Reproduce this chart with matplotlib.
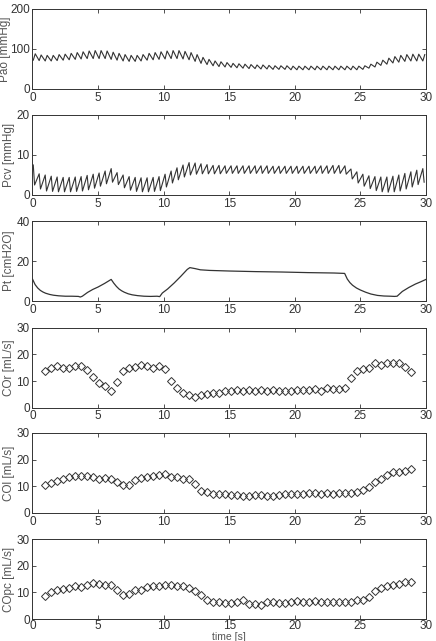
import matplotlib
matplotlib.use("Agg")
import matplotlib.pyplot as plt

plt.rcParams['font.family'] = ['Liberation Sans', 'DejaVu Sans']

# beat times [s]
t_beat = [0.06, 0.51, 0.97, 1.43, 1.88, 2.34, 2.80, 3.26, 3.71, 4.17,
          4.63, 5.08, 5.54, 6.00, 6.45, 6.91, 7.37, 7.83, 8.28, 8.74,
          9.20, 9.65, 10.11, 10.57, 11.02, 11.48, 11.94, 12.40, 12.85, 13.31,
          13.77, 14.22, 14.68, 15.14, 15.59, 16.05, 16.51, 16.97, 17.42, 17.88,
          18.34, 18.79, 19.25, 19.71, 20.16, 20.62, 21.08, 21.54, 21.99, 22.45,
          22.91, 23.36, 23.82, 24.28, 24.73, 25.19, 25.65, 26.11, 26.56, 27.02,
          27.48, 27.93, 28.39, 28.85, 29.30, 29.76]

# arterial pressure, per beat (systolic peak / diastolic trough)
pao_hi = [88, 85, 84, 84, 86, 87, 89, 91, 93, 95,
          96, 96, 95, 92, 89, 86, 84, 84, 86, 89,
          91, 93, 95, 96, 96, 94, 91, 86, 79, 74,
          70, 68, 66, 64, 63, 62, 61, 60, 60, 59,
          58, 58, 58, 57, 57, 57, 57, 57, 57, 57,
          57, 57, 57, 57, 57, 58, 62, 67, 72, 77,
          81, 84, 86, 87, 87, 86]
pao_lo = [72, 71, 70, 70, 71, 72, 73, 74, 75, 76,
          76, 76, 76, 74, 72, 70, 69, 69, 70, 72,
          73, 74, 75, 76, 76, 75, 73, 69, 64, 61,
          58, 56, 55, 54, 53, 52, 51, 51, 50, 50,
          49, 49, 49, 48, 48, 48, 48, 48, 48, 48,
          48, 48, 48, 48, 48, 49, 52, 55, 59, 62,
          65, 67, 69, 70, 70, 70]
pao_rise = 0.15

# central venous pressure, per beat
pcv_hi = [7.5, 5.3, 5.0, 4.7, 4.5, 4.4, 4.4, 4.5, 4.6, 4.9,
          5.2, 5.5, 6.0, 6.6, 5.6, 5.0, 4.6, 4.4, 4.3, 4.3,
          4.4, 4.6, 5.2, 6.0, 6.8, 7.5, 8.1, 8.0, 7.8, 7.6,
          7.4, 7.4, 7.3, 7.3, 7.3, 7.3, 7.3, 7.3, 7.3, 7.3,
          7.2, 7.2, 7.2, 7.2, 7.2, 7.2, 7.2, 7.2, 7.3, 7.3,
          7.4, 7.4, 7.3, 6.5, 5.8, 5.2, 4.8, 4.6, 4.5, 4.5,
          4.7, 5.0, 5.4, 5.8, 6.2, 6.6]
pcv_lo = [2.5, 1.5, 1.0, 0.9, 0.8, 0.8, 0.8, 0.9, 1.0, 1.3,
          1.7, 2.2, 2.8, 3.2, 2.6, 1.8, 1.2, 0.9, 0.8, 0.8,
          0.9, 1.1, 2.0, 3.0, 3.8, 4.5, 5.0, 5.2, 5.3, 5.3,
          5.3, 5.3, 5.4, 5.4, 5.4, 5.4, 5.4, 5.4, 5.4, 5.4,
          5.4, 5.4, 5.4, 5.4, 5.4, 5.4, 5.4, 5.4, 5.4, 5.4,
          5.4, 5.4, 5.2, 4.0, 3.0, 2.2, 1.6, 1.1, 0.8, 0.7,
          0.8, 1.0, 1.5, 2.0, 2.6, 3.2]
pcv_drop = 0.1

# thoracic pressure
pt_t = [0.0, 0.2, 0.4, 0.6, 0.8, 1.0, 1.3, 1.6, 2.0, 2.5,
        3.0, 3.5, 3.65, 3.8, 4.2, 4.6, 5.0, 5.5, 6.0, 6.2,
        6.4, 6.6, 6.8, 7.0, 7.3, 7.6, 8.0, 8.5, 9.0, 9.5,
        9.7, 9.9, 10.3, 10.8, 11.3, 11.8, 12.0, 12.4, 12.8, 13.5,
        15.0, 17.0, 19.0, 21.0, 23.0, 23.8, 24.0, 24.2, 24.4, 24.7,
        25.0, 25.4, 25.8, 26.3, 26.8, 27.3, 27.6, 27.8, 28.2, 28.7,
        29.2, 29.6, 30.0]
pt_v = [11.0, 8.2, 6.5, 5.3, 4.5, 3.9, 3.3, 2.9, 2.6, 2.4,
        2.4, 2.3, 2.0, 2.4, 4.3, 5.8, 7.0, 8.8, 10.8, 8.9,
        7.3, 6.0, 5.1, 4.4, 3.6, 3.1, 2.7, 2.4, 2.3, 2.4,
        2.2, 4.0, 6.0, 9.0, 12.3, 15.8, 16.7, 16.2, 15.6, 15.3,
        15.0, 14.7, 14.5, 14.2, 14.0, 13.8, 11.0, 9.2, 7.9, 6.5,
        5.5, 4.4, 3.5, 2.8, 2.5, 2.4, 2.3, 2.4, 4.8, 6.8,
        8.5, 9.6, 10.8]

# cardiac outputs, one value per beat (beats 2..63)
t_co = t_beat[2:64]
co_r = [13.7, 14.7, 15.5, 15.0, 15.0, 15.7, 15.5, 14.1, 11.6, 9.1,
        8.1, 6.4, 9.8, 13.9, 14.8, 15.4, 15.9, 15.6, 15.0, 15.5,
        14.6, 10.0, 7.3, 5.4, 4.8, 4.0, 4.7, 5.3, 5.4, 5.6,
        6.3, 6.4, 6.6, 6.4, 6.6, 6.3, 6.6, 6.3, 6.6, 6.4,
        6.2, 6.3, 6.6, 6.6, 6.6, 7.0, 6.2, 7.4, 7.1, 7.1,
        7.2, 11.0, 13.9, 14.4, 15.0, 16.6, 16.0, 16.9, 16.9, 16.6,
        15.4, 13.5]
co_l = [10.4, 11.4, 12.0, 12.6, 13.5, 14.0, 13.8, 14.0, 13.5, 12.9,
        13.1, 12.8, 11.6, 10.6, 10.6, 12.5, 13.1, 13.5, 14.0, 14.4,
        14.6, 13.5, 13.4, 12.9, 12.9, 10.9, 8.4, 7.8, 7.1, 7.3,
        7.0, 6.9, 6.8, 6.5, 6.5, 6.9, 6.8, 6.5, 6.5, 6.8,
        7.1, 7.1, 7.0, 7.0, 7.4, 7.5, 7.1, 7.4, 7.3, 7.4,
        7.5, 7.5, 7.9, 8.5, 9.8, 11.6, 12.8, 14.4, 15.3, 15.3,
        15.6, 16.5]
co_pc = [8.8, 10.1, 11.0, 11.3, 11.6, 12.3, 12.0, 12.9, 13.5, 13.3,
         12.9, 12.9, 10.8, 8.9, 9.4, 11.0, 11.0, 12.0, 12.5, 12.5,
         12.9, 12.6, 12.3, 12.3, 11.6, 10.4, 8.9, 7.3, 6.4, 6.3,
         6.0, 6.0, 6.3, 7.0, 5.8, 5.8, 5.4, 6.4, 6.3, 6.0,
         6.0, 6.3, 6.6, 6.5, 6.5, 6.6, 6.5, 6.4, 6.4, 6.3,
         6.3, 6.3, 7.0, 7.3, 8.1, 10.6, 11.6, 12.5, 12.9, 13.3,
         13.8, 13.9]

x_ticks = [0, 5, 10, 15, 20, 25, 30]

# build the zigzag traces from the per-beat extremes
pao_t, pao_v = [], []
for tb, lo, hi in zip(t_beat, pao_lo, pao_hi):
    pao_t += [tb, tb + pao_rise]
    pao_v += [lo, hi]

pcv_t, pcv_v = [], []
for tb, lo, hi in zip(t_beat, pcv_lo, pcv_hi):
    pcv_t += [tb, tb + pcv_drop]
    pcv_v += [hi, lo]

ink = '#333333'
fig = plt.figure(figsize=(4.36, 6.41), dpi=100)

left, width, height = 0.0745, 0.9025, 0.1248
bottoms = [0.8612, 0.6958, 0.5304, 0.3640, 0.1997, 0.0343]
axes = [fig.add_axes([left, b, width, height]) for b in bottoms]

axes[0].plot(pao_t, pao_v, color=ink, lw=0.8)
axes[1].plot(pcv_t, pcv_v, color=ink, lw=0.8)
axes[2].plot(pt_t, pt_v, color=ink, lw=0.9)
for ax, co in zip(axes[3:], [co_r, co_l, co_pc]):
    ax.plot(t_co, co, ls='none', marker='D', ms=3.7, mfc='none',
            mec=ink, mew=0.7)

ylims = [(0, 200), (0, 20), (0, 40), (0, 30), (0, 30), (0, 30)]
yticks = [[0, 100, 200], [0, 10, 20], [0, 20, 40],
          [0, 10, 20, 30], [0, 10, 20, 30], [0, 10, 20, 30]]
ylabels = ['Pao [mmHg]', 'Pcv [mmHg]', 'Pt [cmH2O]',
           'COr [mL/s]', 'COl [mL/s]', 'COpc [mL/s]']
# right edge of the rotated label, in axes fraction
label_x = [-0.054, -0.044, -0.044, -0.044, -0.044, -0.044]

for ax, yl, yt, lab, lx in zip(axes, ylims, yticks, ylabels, label_x):
    ax.set_xlim(0, 30)
    ax.set_ylim(*yl)
    ax.set_xticks(x_ticks)
    ax.set_yticks(yt)
    ax.tick_params(direction='in', top=True, right=True, length=3,
                   width=0.6, labelsize=8.5, colors=ink, pad=2)
    ax.set_ylabel(lab, fontsize=8.5, color='#555555')
    ax.yaxis.set_label_coords(lx, 0.5)
    for s in ax.spines.values():
        s.set_color(ink)
        s.set_linewidth(0.7)

axes[-1].tick_params(axis='x', pad=1)
axes[-1].set_xlabel('time [s]', fontsize=7.5, color='#555555', labelpad=0)

fig.savefig('out.png', dpi=100)
